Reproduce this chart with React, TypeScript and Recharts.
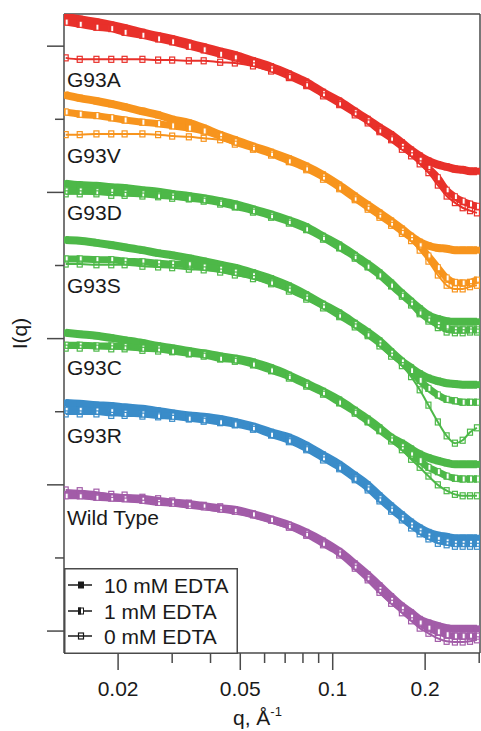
import React from 'react';
import { Legend, Line, LineChart, ReferenceDot, ReferenceLine, XAxis, YAxis } from 'recharts';

const FONT = '"Liberation Sans", Arial, Helvetica, sans-serif';
const FRAME = '#4a4a4a';
const INK = '#1a1a1a';

// axis ranges (q in 1/A, intensity as log10 I, unlabeled decades)
const Q_MIN = 0.01333;
const Q_MAX = 0.3018;
const LOG_I_MIN = -0.3;
const LOG_I_MAX = 8.44;

const X_TICKS = [0.02, 0.03, 0.04, 0.05, 0.06, 0.07, 0.08, 0.09, 0.1, 0.2, 0.3];
const X_MAJOR = [0.02, 0.05, 0.1, 0.2];
const Y_TICKS = [0, 1, 2, 3, 4, 5, 6, 7, 8];

const Q = [
  0.0135, 0.015, 0.017, 0.019, 0.021, 0.024, 0.027, 0.03, 0.034, 0.038, 0.043, 0.048, 0.055, 0.063, 0.072, 0.082,
  0.093, 0.105, 0.118, 0.13, 0.142, 0.155, 0.168, 0.18, 0.192, 0.205, 0.22, 0.235, 0.25, 0.265, 0.28, 0.295,
];

// log10 I(q), offset per variant
const A10 = [8.40, 8.37, 8.33, 8.29, 8.25, 8.19, 8.14, 8.10, 8.04, 7.99, 7.93, 7.88, 7.80, 7.72, 7.62, 7.51, 7.37, 7.25, 7.11, 7.00, 6.89, 6.79, 6.68, 6.58, 6.50, 6.43, 6.38, 6.35, 6.32, 6.31, 6.29, 6.29];
const A1 = [8.33, 8.30, 8.26, 8.24, 8.19, 8.15, 8.10, 8.06, 8.00, 7.95, 7.89, 7.84, 7.77, 7.69, 7.59, 7.48, 7.35, 7.22, 7.09, 6.98, 6.85, 6.74, 6.63, 6.54, 6.44, 6.33, 6.20, 6.03, 5.94, 5.88, 5.84, 5.81];
const A0 = [7.84, 7.82, 7.82, 7.82, 7.82, 7.82, 7.81, 7.81, 7.80, 7.80, 7.78, 7.77, 7.73, 7.66, 7.57, 7.46, 7.32, 7.20, 7.06, 6.95, 6.83, 6.72, 6.59, 6.50, 6.39, 6.27, 6.10, 5.95, 5.86, 5.79, 5.75, 5.72];

const V10 = [7.33, 7.29, 7.25, 7.21, 7.17, 7.11, 7.06, 7.00, 6.95, 6.88, 6.79, 6.72, 6.63, 6.55, 6.46, 6.36, 6.24, 6.10, 5.95, 5.83, 5.72, 5.61, 5.50, 5.40, 5.32, 5.27, 5.24, 5.23, 5.21, 5.21, 5.21, 5.21];
const V1 = [7.10, 7.07, 7.05, 7.02, 6.99, 6.96, 6.94, 6.91, 6.88, 6.84, 6.77, 6.69, 6.61, 6.53, 6.43, 6.33, 6.21, 6.07, 5.92, 5.80, 5.69, 5.58, 5.47, 5.38, 5.27, 5.13, 4.97, 4.83, 4.77, 4.76, 4.77, 4.80];
const V0 = [6.79, 6.79, 6.80, 6.80, 6.80, 6.80, 6.79, 6.77, 6.76, 6.74, 6.72, 6.66, 6.59, 6.51, 6.42, 6.31, 6.18, 6.05, 5.90, 5.77, 5.66, 5.55, 5.44, 5.34, 5.21, 5.06, 4.87, 4.73, 4.68, 4.68, 4.71, 4.73];

const D10 = [6.12, 6.10, 6.09, 6.07, 6.06, 6.03, 6.01, 5.98, 5.95, 5.92, 5.88, 5.84, 5.77, 5.70, 5.62, 5.53, 5.40, 5.28, 5.14, 5.02, 4.90, 4.76, 4.62, 4.51, 4.41, 4.32, 4.27, 4.24, 4.23, 4.23, 4.23, 4.23];
const D1 = [6.02, 6.02, 6.01, 6.01, 5.99, 5.98, 5.96, 5.95, 5.92, 5.90, 5.86, 5.81, 5.75, 5.68, 5.60, 5.50, 5.38, 5.25, 5.12, 4.99, 4.87, 4.73, 4.60, 4.49, 4.36, 4.27, 4.19, 4.15, 4.12, 4.12, 4.12, 4.12];
const D0 = [5.98, 5.98, 5.98, 5.96, 5.96, 5.95, 5.94, 5.92, 5.91, 5.88, 5.84, 5.80, 5.73, 5.66, 5.58, 5.49, 5.36, 5.24, 5.10, 4.98, 4.86, 4.72, 4.58, 4.46, 4.34, 4.24, 4.15, 4.09, 4.08, 4.08, 4.09, 4.09];

const S10 = [5.35, 5.34, 5.31, 5.28, 5.25, 5.21, 5.17, 5.14, 5.10, 5.06, 5.01, 4.97, 4.90, 4.82, 4.72, 4.60, 4.47, 4.35, 4.21, 4.09, 3.97, 3.82, 3.69, 3.60, 3.52, 3.46, 3.42, 3.39, 3.38, 3.37, 3.37, 3.37];
const S1 = [5.09, 5.09, 5.08, 5.08, 5.06, 5.05, 5.03, 5.02, 5.01, 4.98, 4.95, 4.91, 4.86, 4.77, 4.68, 4.57, 4.45, 4.32, 4.19, 4.06, 3.94, 3.80, 3.68, 3.56, 3.43, 3.32, 3.23, 3.17, 3.15, 3.13, 3.13, 3.13];
const S0 = [5.02, 5.02, 5.01, 5.01, 5.01, 4.99, 4.98, 4.97, 4.95, 4.94, 4.91, 4.87, 4.82, 4.75, 4.65, 4.54, 4.42, 4.30, 4.16, 4.04, 3.90, 3.76, 3.63, 3.48, 3.30, 3.09, 2.86, 2.67, 2.57, 2.61, 2.72, 2.78];

const C10 = [4.08, 4.06, 4.04, 4.01, 3.98, 3.94, 3.90, 3.87, 3.83, 3.80, 3.76, 3.73, 3.68, 3.60, 3.50, 3.39, 3.28, 3.16, 3.02, 2.90, 2.78, 2.65, 2.57, 2.49, 2.42, 2.37, 2.33, 2.30, 2.28, 2.28, 2.28, 2.28];
const C1 = [3.91, 3.91, 3.90, 3.90, 3.89, 3.87, 3.86, 3.83, 3.80, 3.78, 3.73, 3.71, 3.65, 3.57, 3.48, 3.37, 3.26, 3.13, 3.00, 2.87, 2.75, 2.63, 2.52, 2.41, 2.33, 2.24, 2.18, 2.12, 2.09, 2.08, 2.08, 2.08];
const C0 = [3.87, 3.87, 3.87, 3.86, 3.86, 3.84, 3.83, 3.82, 3.79, 3.76, 3.72, 3.69, 3.64, 3.56, 3.46, 3.35, 3.24, 3.12, 2.98, 2.86, 2.74, 2.60, 2.48, 2.35, 2.24, 2.12, 2.00, 1.92, 1.87, 1.85, 1.85, 1.85];

const R10 = [3.12, 3.11, 3.09, 3.08, 3.06, 3.04, 3.01, 2.98, 2.95, 2.93, 2.90, 2.86, 2.80, 2.72, 2.65, 2.54, 2.41, 2.28, 2.13, 2.00, 1.85, 1.71, 1.59, 1.49, 1.41, 1.35, 1.31, 1.29, 1.27, 1.27, 1.27, 1.27];
const R1 = [3.02, 3.02, 3.01, 3.00, 2.98, 2.97, 2.95, 2.94, 2.91, 2.89, 2.86, 2.83, 2.78, 2.69, 2.61, 2.50, 2.37, 2.24, 2.09, 1.96, 1.81, 1.67, 1.55, 1.45, 1.37, 1.30, 1.25, 1.22, 1.20, 1.20, 1.20, 1.20];
const R0 = [2.97, 2.97, 2.97, 2.95, 2.95, 2.94, 2.93, 2.91, 2.90, 2.87, 2.85, 2.82, 2.76, 2.68, 2.59, 2.48, 2.34, 2.22, 2.07, 1.93, 1.78, 1.64, 1.52, 1.41, 1.33, 1.26, 1.20, 1.18, 1.16, 1.16, 1.16, 1.16];

const W10 = [1.87, 1.86, 1.85, 1.83, 1.82, 1.81, 1.78, 1.76, 1.74, 1.71, 1.68, 1.66, 1.60, 1.53, 1.45, 1.35, 1.23, 1.09, 0.92, 0.77, 0.62, 0.47, 0.34, 0.25, 0.16, 0.11, 0.07, 0.04, 0.03, 0.03, 0.03, 0.03];
const W1 = [1.85, 1.85, 1.83, 1.82, 1.81, 1.79, 1.76, 1.75, 1.72, 1.70, 1.67, 1.64, 1.59, 1.52, 1.44, 1.33, 1.20, 1.07, 0.89, 0.73, 0.57, 0.42, 0.30, 0.19, 0.11, 0.04, -0.01, -0.05, -0.07, -0.07, -0.07, -0.07];
const W0 = [1.93, 1.92, 1.90, 1.87, 1.86, 1.83, 1.81, 1.78, 1.75, 1.72, 1.70, 1.66, 1.60, 1.52, 1.42, 1.31, 1.18, 1.04, 0.86, 0.70, 0.53, 0.38, 0.25, 0.14, 0.04, -0.03, -0.10, -0.14, -0.15, -0.15, -0.14, -0.12];

const VARIANTS = [
  { id: 'A', name: 'G93A', color: '#e8302a', labelAt: 7.55, c10: A10, c1: A1, c0: A0 },
  { id: 'V', name: 'G93V', color: '#f7941d', labelAt: 6.51, c10: V10, c1: V1, c0: V0 },
  { id: 'D', name: 'G93D', color: '#4db848', labelAt: 5.73, c10: D10, c1: D1, c0: D0 },
  { id: 'S', name: 'G93S', color: '#4db848', labelAt: 4.73, c10: S10, c1: S1, c0: S0 },
  { id: 'C', name: 'G93C', color: '#4db848', labelAt: 3.61, c10: C10, c1: C1, c0: C0 },
  { id: 'R', name: 'G93R', color: '#3a8cc9', labelAt: 2.68, c10: R10, c1: R1, c0: R0 },
  { id: 'W', name: 'Wild Type', color: '#a25ca8', labelAt: 1.55, c10: W10, c1: W1, c0: W0 },
];

const CONCS = [
  { key: 'c10', label: '10 mM EDTA', marker: 'filled', width: 8 },
  { key: 'c1', label: '1 mM EDTA', marker: 'half', width: 7 },
  { key: 'c0', label: '0 mM EDTA', marker: 'open', width: 2 },
];

const rows = Q.map((q, i) => {
  const row: Record<string, number> = { q };
  VARIANTS.forEach((v: any) => {
    CONCS.forEach((c) => {
      row[v.id + c.key] = v[c.key][i];
    });
  });
  return row;
});

function Square({ cx, cy, kind, color }: { cx: number; cy: number; kind: string; color: string }) {
  const w = 6;
  const h = 7;
  const x = cx - w / 2;
  const y = cy - h / 2;
  if (kind === 'filled') return <rect x={x} y={y} width={w} height={h} fill={color} />;
  if (kind === 'half') {
    return (
      <g>
        <rect x={x + 0.5} y={y + 0.5} width={w - 1} height={h - 1} fill="#fff" stroke={color} strokeWidth={1} />
        <rect x={x} y={y} width={w / 2} height={h} fill={color} />
      </g>
    );
  }
  return <rect x={x + 0.5} y={y + 0.5} width={w - 1} height={h - 1} fill="none" stroke={color} strokeWidth={1.2} />;
}

const makeDot = (kind: string, color: string, name: string) => (p: any) => {
  const key = `${name}-${p.index}`;
  if (p.cx == null || p.cy == null) return <g key={key} />;
  return (
    <g key={key}>
      <Square cx={p.cx} cy={p.cy} kind={kind} color={color} />
    </g>
  );
};

function XTick({ x, y, payload }: any) {
  const major = X_MAJOR.includes(payload.value);
  return (
    <g>
      <line x1={x} y1={y} x2={x} y2={y + (major ? 17 : 10)} stroke={FRAME} strokeWidth={1.5} />
      {major && (
        <text x={x} y={y + 43} textAnchor="middle" fontSize={21} fontFamily={FONT} fill={INK}>
          {payload.value}
        </text>
      )}
    </g>
  );
}

function YTick({ x, y, payload }: any) {
  const long = payload.value % 2 === 0;
  return <line x1={x - (long ? 17 : 9)} y1={y} x2={x} y2={y} stroke={FRAME} strokeWidth={1.5} />;
}

function XTitle({ viewBox }: any) {
  return (
    <text x={233} y={viewBox.y + 72} fontSize={21} fontFamily={FONT} fill={INK}>
      q, Å
      <tspan dy={-9} fontSize={13}>-1</tspan>
    </text>
  );
}

function EdtaLegend() {
  const rowsY = [17, 43, 68];
  return (
    <svg width={174} height={86} style={{ display: 'block' }}>
      <rect x={0.75} y={0.75} width={172.5} height={84.5} fill="#fff" stroke={FRAME} strokeWidth={1.5} />
      {CONCS.map((c, i) => (
        <g key={c.key}>
          <line x1={4} y1={rowsY[i]} x2={28} y2={rowsY[i]} stroke={INK} strokeWidth={1.5} />
          <Square cx={17} cy={rowsY[i]} kind={c.marker} color={INK} />
          <text x={40} y={rowsY[i] + 7.5} fontSize={21} fontFamily={FONT} fill={INK}>
            {c.label}
          </text>
        </g>
      ))}
    </svg>
  );
}

export default function App() {
  return (
    <div style={{ position: 'absolute', left: 0, top: 0, width: 481, height: 731, background: '#fff' }}>
      <LineChart width={481} height={731} data={rows} margin={{ top: 14, right: 1, bottom: 0, left: 0 }}>
        <XAxis
          dataKey="q"
          type="number"
          scale="log"
          domain={[Q_MIN, Q_MAX]}
          allowDataOverflow
          ticks={X_TICKS}
          interval={0}
          height={78}
          tickSize={0}
          tickMargin={0}
          tickLine={false}
          tick={(p: any) => <XTick {...p} />}
          axisLine={{ stroke: FRAME, strokeWidth: 1.5 }}
          label={{ content: (p: any) => <XTitle {...p} /> }}
        />
        <YAxis
          type="number"
          domain={[LOG_I_MIN, LOG_I_MAX]}
          allowDataOverflow
          ticks={Y_TICKS}
          interval={0}
          width={64}
          tickSize={0}
          tickMargin={0}
          tickLine={false}
          tick={(p: any) => <YTick {...p} />}
          axisLine={{ stroke: FRAME, strokeWidth: 1.5 }}
          label={{
            value: 'I(q)',
            angle: -90,
            position: 'insideLeft',
            offset: 20,
            fontSize: 21,
            fontFamily: FONT,
            fill: INK,
            style: { textAnchor: 'middle' },
          }}
        />
        <ReferenceLine y={LOG_I_MAX} stroke={FRAME} strokeWidth={1.5} ifOverflow="visible" />
        <ReferenceLine x={Q_MAX} stroke={FRAME} strokeWidth={1.5} ifOverflow="visible" />
        {VARIANTS.flatMap((v) =>
          CONCS.map((c) => (
            <Line
              key={v.id + c.key}
              dataKey={v.id + c.key}
              type="monotone"
              stroke={v.color}
              strokeWidth={c.width}
              dot={makeDot(c.marker, v.color, v.id + c.key)}
              activeDot={false}
              isAnimationActive={false}
            />
          )),
        )}
        {VARIANTS.map((v) => (
          <ReferenceDot
            key={'lbl' + v.id}
            x={Q_MIN}
            y={v.labelAt}
            r={0}
            fill="none"
            stroke="none"
            ifOverflow="visible"
            label={{ value: v.name, position: 'right', offset: 3, fontSize: 21, fontFamily: FONT, fill: INK }}
          />
        ))}
        <Legend
          layout="horizontal"
          verticalAlign="middle"
          align="center"
          wrapperStyle={{ left: 64, top: 568, width: 174, height: 86 }}
          content={() => <EdtaLegend />}
        />
      </LineChart>
    </div>
  );
}
